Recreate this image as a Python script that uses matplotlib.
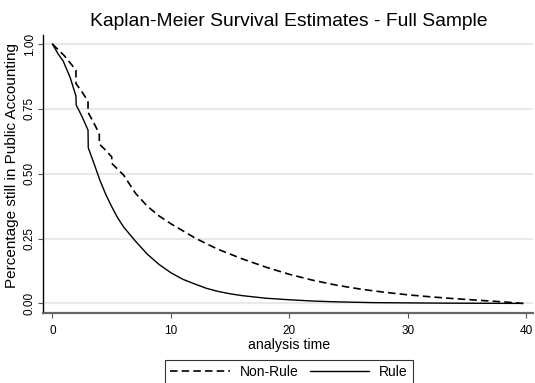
import numpy as np
import matplotlib.pyplot as plt

plt.rcParams['font.family'] = ['Liberation Sans', 'DejaVu Sans']

# Kaplan-Meier estimates
rule_t = [0, 0.5, 0.9, 1.5, 1.98, 2.0, 2.5, 3.0, 3.02, 3.5, 4.0, 4.5, 5.0, 5.5,
          6.0, 7.0, 8.0, 9.0, 10.0, 11.0, 12.0, 13.0, 14.0, 15.0, 16.0, 18.0,
          20.0, 22.0, 24.0, 27.0, 30.0, 33.0, 36.0, 39.7]
rule_s = [1.0, 0.96, 0.935, 0.87, 0.80, 0.765, 0.72, 0.668, 0.60, 0.54, 0.475,
          0.42, 0.373, 0.33, 0.295, 0.24, 0.19, 0.15, 0.118, 0.093, 0.075,
          0.058, 0.046, 0.037, 0.03, 0.02, 0.014, 0.009, 0.006, 0.003, 0.002,
          0.001, 0.0005, 0.0]

nonrule_t = [0, 1.0, 1.98, 1.98, 2.5, 3.0, 3.0, 3.5, 3.95, 3.95, 4.5, 5.0, 5.0,
             6.0, 7.0, 8.0, 9.0, 10.0, 11.0, 12.0, 13.0, 14.0, 15.0, 16.0,
             18.0, 20.0, 22.0, 24.0, 26.0, 28.0, 30.0, 32.0, 34.0, 36.0, 38.0,
             39.7]
nonrule_s = [1.0, 0.955, 0.9, 0.848, 0.815, 0.78, 0.737, 0.695, 0.654, 0.615,
             0.59, 0.565, 0.54, 0.495, 0.425, 0.375, 0.337, 0.307, 0.28, 0.253,
             0.23, 0.208, 0.19, 0.172, 0.14, 0.112, 0.089, 0.07, 0.055, 0.043,
             0.033, 0.025, 0.018, 0.012, 0.006, 0.0]

x_ticks = [0, 10, 20, 30, 40]
y_ticks = [0.0, 0.25, 0.5, 0.75, 1.0]

fig = plt.figure(figsize=(5.35, 3.83), dpi=100)
ax = fig.add_axes([43 / 535, 1 - 313 / 383, 490 / 535, 278 / 383])

for y in y_ticks:
    ax.axhline(y, color='#e9e9e9', lw=1.5, zorder=0)

ax.plot(nonrule_t, nonrule_s, color='black', lw=1.2, dashes=(4.5, 2.5),
        label='Non-Rule')
ax.plot(rule_t, rule_s, color='black', lw=1.0, label='Rule')

ax.set_xlim(-0.8, 40.55)
ax.set_ylim(-0.037, 1.035)
ax.set_xticks(x_ticks)
ax.set_yticks(y_ticks)
ax.set_yticklabels([f'{v:.2f}' for v in y_ticks], rotation=90, va='center')

for s in ['top', 'right']:
    ax.spines[s].set_visible(False)
ax.spines['left'].set_color('black')
ax.spines['left'].set_linewidth(1.0)
ax.spines['bottom'].set_color('#666666')
ax.spines['bottom'].set_linewidth(1.6)

ax.tick_params(axis='both', direction='out', length=3.6, width=0.8,
               color='#555555', labelsize=8.5)
ax.tick_params(axis='x', pad=5)
ax.tick_params(axis='y', pad=1.5)

ax.set_xlabel('analysis time', fontsize=10.2)
ax.xaxis.set_label_coords(0.502, -0.09)
ax.set_ylabel('Percentage still in Public Accounting', fontsize=11)
ax.yaxis.set_label_coords(-0.048, 0.53)

fig.text(289 / 535, 1 - 21 / 383, 'Kaplan-Meier Survival Estimates - Full Sample',
         fontsize=13.9, ha='center', va='center')

leg = fig.legend(loc='center', bbox_to_anchor=(289 / 535, 1 - 372 / 383),
                 ncol=2, fontsize=10, frameon=True, fancybox=False,
                 handlelength=4.3, handletextpad=0.7, columnspacing=0.8,
                 borderpad=0.35)
leg.get_frame().set_edgecolor('black')
leg.get_frame().set_linewidth(0.8)

fig.savefig('out.png', dpi=100)
